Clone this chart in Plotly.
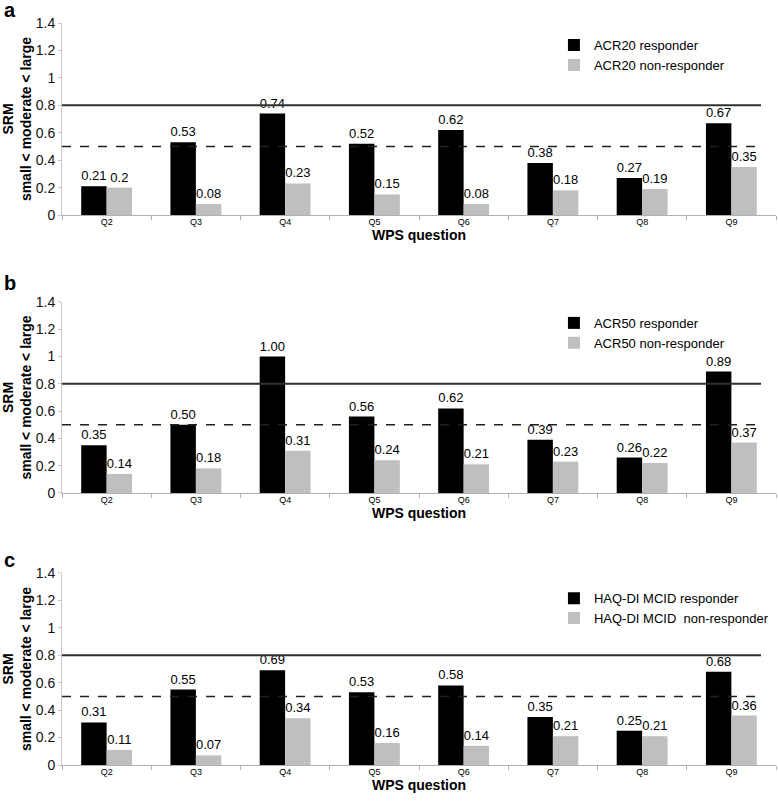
import plotly.graph_objects as go
from plotly.subplots import make_subplots

questions = ["Q2", "Q3", "Q4", "Q5", "Q6", "Q7", "Q8", "Q9"]

# panel a - ACR20
acr20_resp = [0.21, 0.53, 0.74, 0.52, 0.62, 0.38, 0.27, 0.67]
acr20_non = [0.2, 0.08, 0.23, 0.15, 0.08, 0.18, 0.19, 0.35]

# panel b - ACR50
acr50_resp = [0.35, 0.50, 1.00, 0.56, 0.62, 0.39, 0.26, 0.89]
acr50_non = [0.14, 0.18, 0.31, 0.24, 0.21, 0.23, 0.22, 0.37]

# panel c - HAQ-DI MCID
haq_resp = [0.31, 0.55, 0.69, 0.53, 0.58, 0.35, 0.25, 0.68]
haq_non = [0.11, 0.07, 0.34, 0.16, 0.14, 0.21, 0.21, 0.36]

large_cut = 0.8
moderate_cut = 0.5

FONT = "Liberation Sans, Arial, sans-serif"
BLACK = "#000000"
GREY = "#bfbfbf"

panels = [
    ("a", "ACR20 responder", "ACR20 non-responder", acr20_resp, acr20_non, "{:g}"),
    ("b", "ACR50 responder", "ACR50 non-responder", acr50_resp, acr50_non, "{:.2f}"),
    ("c", "HAQ-DI MCID responder", "HAQ-DI MCID\u00a0 non-responder", haq_resp, haq_non, "{:.2f}"),
]

fig = make_subplots(rows=3, cols=1)

# plot area is 742 px tall; fractions below are of that area
y_domains = [[0.7412, 1.0], [0.3666, 0.624], [0.0, 0.2588]]
legend_y = [0.9905, 0.616, 0.245]
letter_y = [1.0175, 0.6496, 0.2763]
legend_names = ["legend", "legend2", "legend3"]

for i, (letter, name_r, name_n, resp, non, fmt) in enumerate(panels):
    row = i + 1
    lg = legend_names[i]
    for vals, name, color in [(resp, name_r, BLACK), (non, name_n, GREY)]:
        fig.add_trace(go.Bar(x=questions, y=vals, name=name, marker_color=color,
                             marker_line_width=0,
                             text=[fmt.format(v) for v in vals],
                             texttemplate="%{text}", textposition="outside",
                             constraintext="none", cliponaxis=False,
                             textfont=dict(size=13, color="black"),
                             outsidetextfont=dict(size=13, color="black"),
                             hoverinfo="x+y", legend=lg),
                      row=row, col=1)

    xref = "x" if i == 0 else f"x{row}"
    yref = "y" if i == 0 else f"y{row}"
    fig.add_shape(type="line", xref=f"{xref} domain", yref=yref, x0=0, x1=0.979,
                  y0=large_cut, y1=large_cut, line=dict(color="#303030", width=2))
    fig.add_shape(type="line", xref=f"{xref} domain", yref=yref, x0=0, x1=0.979,
                  y0=moderate_cut, y1=moderate_cut,
                  line=dict(color="#202020", width=1.5, dash="dash"))

    fig.add_annotation(text=f"<b>{letter}</b>", xref="paper", yref="paper",
                       x=-0.084, y=letter_y[i], xanchor="left", yanchor="middle",
                       showarrow=False, font=dict(size=20, color="black"))

    fig.update_yaxes(range=[0, 1.4], tickvals=[0, 0.2, 0.4, 0.6, 0.8, 1, 1.2, 1.4],
                     showgrid=False, automargin=False,
                     zeroline=False, showline=True, linecolor="#c8c8c8",
                     ticks="outside", ticklen=3, tickcolor="#c8c8c8",
                     tickfont=dict(size=14, color="#111111"),
                     title=dict(text="<b>SRM<br>small < moderate < large</b>",
                                font=dict(size=14, color="black"), standoff=1),
                     domain=y_domains[i], row=row, col=1)
    fig.update_xaxes(showgrid=False, showline=True, linecolor="#b0b0b0",
                     automargin=False,
                     ticks="outside", tickson="boundaries", ticklen=4,
                     tickcolor="#b0b0b0", tickfont=dict(size=9, color="black"),
                     ticklabelstandoff=-2,
                     title=dict(text="<b>WPS question</b>",
                                font=dict(size=14, color="black"), standoff=0),
                     domain=[0, 1], row=row, col=1)

legend_style = dict(x=0.689, xanchor="left", yanchor="top",
                    bgcolor="rgba(0,0,0,0)", font=dict(size=13, color="black"),
                    itemwidth=30, tracegroupgap=0)
fig.update_layout(
    legend=dict(y=legend_y[0], **legend_style),
    legend2=dict(y=legend_y[1], **legend_style),
    legend3=dict(y=legend_y[2], **legend_style),
)

fig.update_layout(
    width=778, height=802,
    margin=dict(l=62, r=2, t=23, b=37),
    barmode="group", bargap=0.43, bargroupgap=0,
    plot_bgcolor="white", paper_bgcolor="white",
    font=dict(family=FONT, color="black"),
    showlegend=True,
)

# drop the default 8px body margin so the figure fills the window
fig.write_html("out.html", config={"displayModeBar": False},
               post_script="document.body.style.margin = '0';")
